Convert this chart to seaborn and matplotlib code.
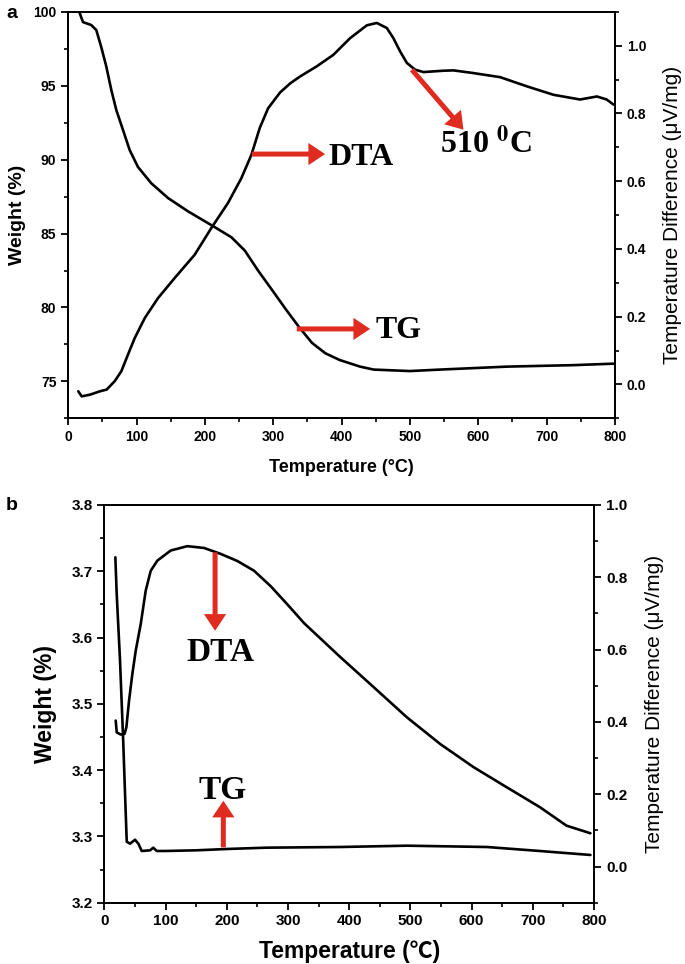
import matplotlib
matplotlib.use("Agg")
import matplotlib.pyplot as plt
import seaborn as sns
from matplotlib.ticker import MultipleLocator

# ---------------- data ----------------
# Panel a: TG (weight %, left axis)
a_tg_t = [16, 21.5, 33.7, 41, 48.3, 55.6, 63, 70.3, 80.1, 89.9, 102, 121.5, 146, 175.3,
          209.4, 238.7, 258.3, 277.7, 298, 318, 337.3, 356.8, 376.3, 397, 427, 447,
          500, 544, 593, 642, 690, 739, 798]
a_tg_w = [100, 99.3, 99.1, 98.76, 97.6, 96.3, 94.7, 93.35, 92.0, 90.64, 89.5, 88.4, 87.4,
          86.5, 85.57, 84.75, 83.85, 82.5, 81.2, 79.9, 78.7, 77.6, 76.9, 76.45, 76.0, 75.8,
          75.7, 75.8, 75.9, 76.0, 76.05, 76.1, 76.2]
# Panel a: DTA (uV/mg, right axis)
a_dta_t = [14.6, 19.6, 31.8, 46.4, 56.2, 68, 77.6, 87.4, 97.2, 111.9, 131.3, 155.8, 185,
           209.4, 233.8, 253.3, 268, 280.2, 292.4, 310, 325, 339.2, 363.7, 388, 412.4,
           436.9, 451.5, 466.2, 475.8, 485.6, 495.5, 507.6, 519.8, 549, 563.7, 593, 632,
           671, 710, 749, 773.6, 788, 798]
a_dta_v = [-0.02, -0.035, -0.03, -0.02, -0.015, 0.01, 0.039, 0.0885, 0.137, 0.196, 0.255,
           0.3145, 0.383, 0.462, 0.536, 0.609, 0.678, 0.757, 0.815, 0.862, 0.889, 0.909,
           0.939, 0.973, 1.022, 1.060, 1.067, 1.052, 1.022, 0.983, 0.949, 0.929, 0.922,
           0.926, 0.927, 0.919, 0.907, 0.88, 0.855, 0.841, 0.85, 0.841, 0.826]

# Panel b: TG (weight %, left axis)
b_tg_t = [18, 20.2, 25.6, 31, 33.8, 36.6, 42, 50.2, 55.6, 61.1, 74.7, 80, 85.6, 100,
          150, 200, 265, 385, 494, 625, 711, 794]
b_tg_w = [3.721, 3.666, 3.566, 3.44, 3.365, 3.292, 3.289, 3.295, 3.289, 3.278, 3.279,
          3.283, 3.278, 3.278, 3.279, 3.281, 3.283, 3.284, 3.286, 3.284, 3.278, 3.272]
# Panel b: DTA (uV/mg, right axis)
b_dta_t = [18.6, 20.3, 26.8, 33, 36, 40.4, 45.8, 51.3, 59.5, 67.6, 75.8, 86.6, 108.5,
           135.6, 162.9, 190.2, 217.3, 244.6, 271.9, 299, 326.3, 385, 440, 494, 548.5,
           603, 657.5, 711.6, 755, 794]
b_dta_v = [0.4036, 0.371, 0.365, 0.367, 0.385, 0.459, 0.533, 0.597, 0.671, 0.763, 0.818,
           0.846, 0.874, 0.886, 0.881, 0.8645, 0.845, 0.818, 0.775, 0.725, 0.673, 0.58,
           0.496, 0.413, 0.339, 0.275, 0.219, 0.164, 0.113, 0.092]

x_ticks = [0, 100, 200, 300, 400, 500, 600, 700, 800]
a_left_ticks = [75, 80, 85, 90, 95, 100]
a_right_ticks = [0.0, 0.2, 0.4, 0.6, 0.8, 1.0]
b_left_ticks = [3.2, 3.3, 3.4, 3.5, 3.6, 3.7, 3.8]
b_right_ticks = [0.0, 0.2, 0.4, 0.6, 0.8, 1.0]

# ---------------- style ----------------
sns.set_style("ticks")
plt.rcParams['font.family'] = ['Liberation Sans', 'Noto Sans CJK SC', 'DejaVu Sans']
plt.rcParams['mathtext.fontset'] = 'stix'
plt.rcParams['axes.linewidth'] = 1.3
for k in ('text.color', 'axes.labelcolor', 'xtick.color', 'ytick.color', 'axes.edgecolor'):
    plt.rcParams[k] = 'black'

RED = '#e02b20'
LW = 1.9
SERIF = 'Liberation Serif'

fig = plt.figure(figsize=(6.85, 9.64), dpi=100)


def style_axes(ax, ax2, xminor, lminor, rminor, tick_fs):
    for a in (ax, ax2):
        for s in a.spines.values():
            s.set_linewidth(1.3)
            s.set_color('black')
    ax.set_xlim(0, 800)
    ax.set_xticks(x_ticks)
    ax.xaxis.set_minor_locator(MultipleLocator(xminor))
    ax.yaxis.set_minor_locator(MultipleLocator(lminor))
    ax2.yaxis.set_minor_locator(MultipleLocator(rminor))
    ax.tick_params(axis='both', which='major', direction='out', length=5, width=1.3,
                   labelsize=tick_fs, top=False, right=False, colors='black')
    ax.tick_params(axis='both', which='minor', direction='out', length=3, width=1.2,
                   top=False, right=False)
    ax2.tick_params(axis='y', which='major', direction='out', length=5, width=1.3,
                    labelsize=tick_fs, left=False, right=True, colors='black')
    ax2.tick_params(axis='y', which='minor', direction='out', length=3, width=1.2,
                    left=False, right=True)
    for lab in ax.get_xticklabels() + ax.get_yticklabels() + ax2.get_yticklabels():
        lab.set_fontweight('bold')


def arrow(ax, tail, tip):
    ax.annotate('', xy=tip, xytext=tail,
                arrowprops=dict(arrowstyle='simple,head_length=0.6,head_width=0.8,tail_width=0.18',
                                color=RED, lw=0, shrinkA=0, shrinkB=0, mutation_scale=20))


# ---------------- panel a ----------------
axA = fig.add_axes([0.0997, 0.566, 0.798, 0.4218])
axA2 = axA.twinx()
sns.lineplot(x=a_tg_t, y=a_tg_w, ax=axA, color='black', lw=LW, sort=False, estimator=None)
sns.lineplot(x=a_dta_t, y=a_dta_v, ax=axA2, color='black', lw=LW, sort=False, estimator=None)
axA.set_ylim(72.5, 100)
axA.set_yticks(a_left_ticks)
axA2.set_ylim(-0.1, 1.1)
axA2.set_yticks(a_right_ticks)
axA2.set_yticklabels([f"{v:.1f}" for v in a_right_ticks])
style_axes(axA, axA2, 50, 2.5, 0.1, 10)
axA.set_xlabel('Temperature (°C)', fontsize=13, fontweight='bold', labelpad=11)
axA.set_ylabel('Weight (%)', fontsize=14, fontweight='bold', labelpad=5)
axA2.set_ylabel('Temperature Difference (μV/mg)', fontsize=15, labelpad=12)

arrow(axA2, (268.5, 0.680), (375.8, 0.680))
axA2.text(428, 0.649, 'DTA', family=SERIF, fontweight='bold', fontsize=23,
          ha='center', va='baseline')
arrow(axA2, (334.4, 0.164), (441.7, 0.164))
axA2.text(483, 0.136, 'TG', family=SERIF, fontweight='bold', fontsize=23,
          ha='center', va='baseline')
arrow(axA2, (502.8, 0.929), (578.3, 0.752))
axA2.text(611, 0.683, r'510 $^{\mathbf{0}}$C', family=SERIF, fontweight='bold', fontsize=23,
          ha='center', va='baseline')
fig.text(12 / 685, 1 - 13 / 964, 'a', fontsize=14, fontweight='bold', ha='center', va='center')

# ---------------- panel b ----------------
axB = fig.add_axes([0.1523, 0.0636, 0.715, 0.4126])
axB2 = axB.twinx()
sns.lineplot(x=b_tg_t, y=b_tg_w, ax=axB, color='black', lw=LW, sort=False, estimator=None)
sns.lineplot(x=b_dta_t, y=b_dta_v, ax=axB2, color='black', lw=LW, sort=False, estimator=None)
axB.set_ylim(3.2, 3.8)
axB.set_yticks(b_left_ticks)
axB2.set_ylim(-0.1, 1.0)
axB2.set_yticks(b_right_ticks)
axB2.set_yticklabels([f"{v:.1f}" for v in b_right_ticks])
style_axes(axB, axB2, 50, 0.05, 0.1, 11)
axB.set_xlabel('Temperature (℃)', fontsize=16.5, fontweight='bold', labelpad=8)
axB.set_ylabel('Weight (%)', fontsize=16.5, fontweight='bold', labelpad=10)
axB2.set_ylabel('Temperature Difference (μV/mg)', fontsize=15, labelpad=13)

arrow(axB2, (180.9, 0.869), (180.9, 0.652))
axB2.text(190, 0.5695, 'DTA', family=SERIF, fontweight='bold', fontsize=24,
          ha='center', va='baseline')
arrow(axB2, (194.4, 0.053), (194.4, 0.182))
axB2.text(194, 0.188, 'TG', family=SERIF, fontweight='bold', fontsize=24,
          ha='center', va='baseline')
fig.text(12 / 685, 1 - 505 / 964, 'b', fontsize=14, fontweight='bold', ha='center', va='center')

fig.savefig('out.png', dpi=100)
